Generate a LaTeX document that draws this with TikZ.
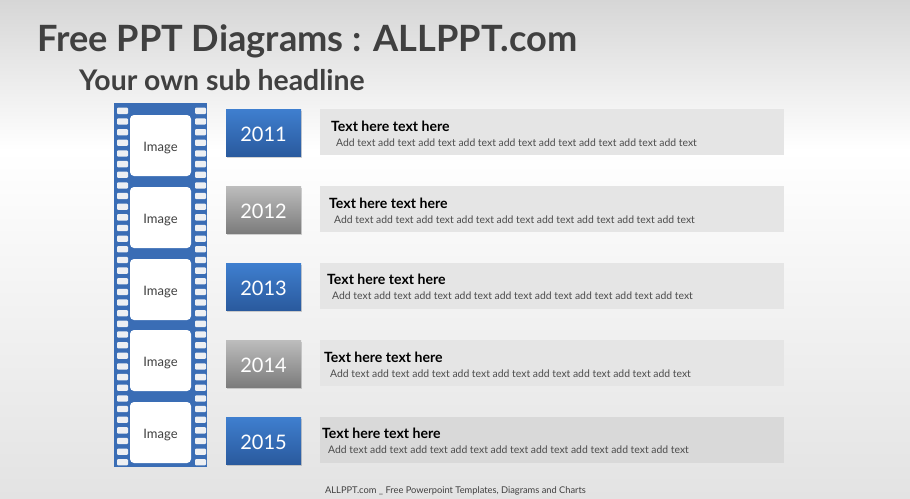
\documentclass[tikz,border=0pt]{standalone}
\usepackage{fontspec}
\setmainfont{Lato}
\definecolor{filmblue}{HTML}{3A6DB5}
\definecolor{holegray}{HTML}{EEF0F3}
\definecolor{bluetop}{HTML}{3F7FCF}
\definecolor{bluebot}{HTML}{2A5A9E}
\definecolor{graytop}{HTML}{BDBDBD}
\definecolor{graybot}{HTML}{7C7C7C}
\definecolor{barfill}{HTML}{E5E5E5}
\definecolor{headgray}{HTML}{404040}
\newcommand{\lowered}[2]{\raisebox{-#1}[0pt][0pt]{#2}}
\tikzset{
	hole/.style={fill=holegray, rounded corners=1pt},
	frame/.style={fill=white, rounded corners=4pt, minimum width=61pt, minimum height=61pt, inner sep=0pt, text=headgray, font=\fontsize{13}{15}\selectfont},
	yearblue/.style={top color=bluetop, bottom color=bluebot, minimum width=75pt, minimum height=47pt, inner sep=0pt, text=white, font=\fontsize{20}{22}\selectfont, drop shadow={opacity=.35, shadow xshift=1pt, shadow yshift=-2pt}},
	yeargray/.style={yearblue, top color=graytop, bottom color=graybot},
	bar/.style={fill=barfill, minimum width=464pt, minimum height=46pt, inner sep=0pt},
	bartitle/.style={anchor=base west, inner sep=0pt, font=\fontsize{14.1}{16}\selectfont\bfseries},
	bartext/.style={anchor=base west, inner sep=0pt, text=black!70, font=\fontsize{10.4}{12}\selectfont}
}
\usetikzlibrary{shadows}
\begin{document}
\begin{tikzpicture}[x=1pt, y=-1pt]
	\useasboundingbox (0,0) rectangle (910,498);
	% background
	\fill[top color=black!16, bottom color=white] (0,0) rectangle (910,150);
	\fill[top color=white, bottom color=black!11] (0,150) rectangle (910,498);

	% headlines
	\node[anchor=base west, inner sep=0pt, text=headgray, font=\fontsize{36.2}{40}\selectfont\bfseries] (head) at (37,51) {Free PPT Diagrams : ALLPPT.com};
	\node[anchor=base west, inner sep=0pt, text=headgray, font=\fontsize{28.4}{32}\selectfont\bfseries] (sub) at (79,90) {Your own sub headline};

	% film strip
	\fill[filmblue] (114,103) rectangle (207,467);
	\foreach \i in {0,...,33} {
		\fill[hole] (117,107.7+10.65*\i) rectangle (128,114+10.65*\i);
		\fill[hole] (195,107.7+10.65*\i) rectangle (206,114+10.65*\i);
	}
	\node[frame] (img1) at (160.5,145.5) {\lowered{5.5pt}{Image}};
	\node[frame] (img2) at (160.5,217.5) {\lowered{5.5pt}{Image}};
	\node[frame] (img3) at (160.5,289.5) {\lowered{5.5pt}{Image}};
	\node[frame] (img4) at (160.5,360.5) {\lowered{5.5pt}{Image}};
	\node[frame] (img5) at (160.5,432.5) {\lowered{5.5pt}{Image}};

	% years
	\node[yearblue] (y1) at (263.5,132.5) {\lowered{9pt}{2011}};
	\node[yeargray] (y2) at (263.5,209.5) {\lowered{9pt}{2012}};
	\node[yearblue] (y3) at (263.5,286.5) {\lowered{9pt}{2013}};
	\node[yeargray] (y4) at (263.5,363.5) {\lowered{9pt}{2014}};
	\node[yearblue] (y5) at (263.5,440.5) {\lowered{9pt}{2015}};

	% text bars
	\node[bar] (b1) at (552,132) {};
	\node[bar] (b2) at (552,209) {};
	\node[bar] (b3) at (552,286) {};
	\node[bar] (b4) at (552,363) {};
	\node[bar, fill=black!15] (b5) at (552,440) {};

	\node[bartitle] (t1) at (331,131) {Text here text here};
	\node[bartext] (d1) at (336,146) {Add text add text add text add text add text add text add text add text add text};
	\node[bartitle] (t2) at (329,208) {Text here text here};
	\node[bartext] (d2) at (334,223) {Add text add text add text add text add text add text add text add text add text};
	\node[bartitle] (t3) at (327,284) {Text here text here};
	\node[bartext] (d3) at (332,299) {Add text add text add text add text add text add text add text add text add text};
	\node[bartitle] (t4) at (324,362) {Text here text here};
	\node[bartext] (d4) at (330,377) {Add text add text add text add text add text add text add text add text add text};
	\node[bartitle] (t5) at (322,438) {Text here text here};
	\node[bartext] (d5) at (328,453) {Add text add text add text add text add text add text add text add text add text};

	% footer
	\node[anchor=base, inner sep=0pt, text=black!75, font=\fontsize{9.3}{11}\selectfont] (foot) at (455.5,493) {ALLPPT.com \_ Free Powerpoint Templates, Diagrams and Charts};
\end{tikzpicture}
\end{document}
